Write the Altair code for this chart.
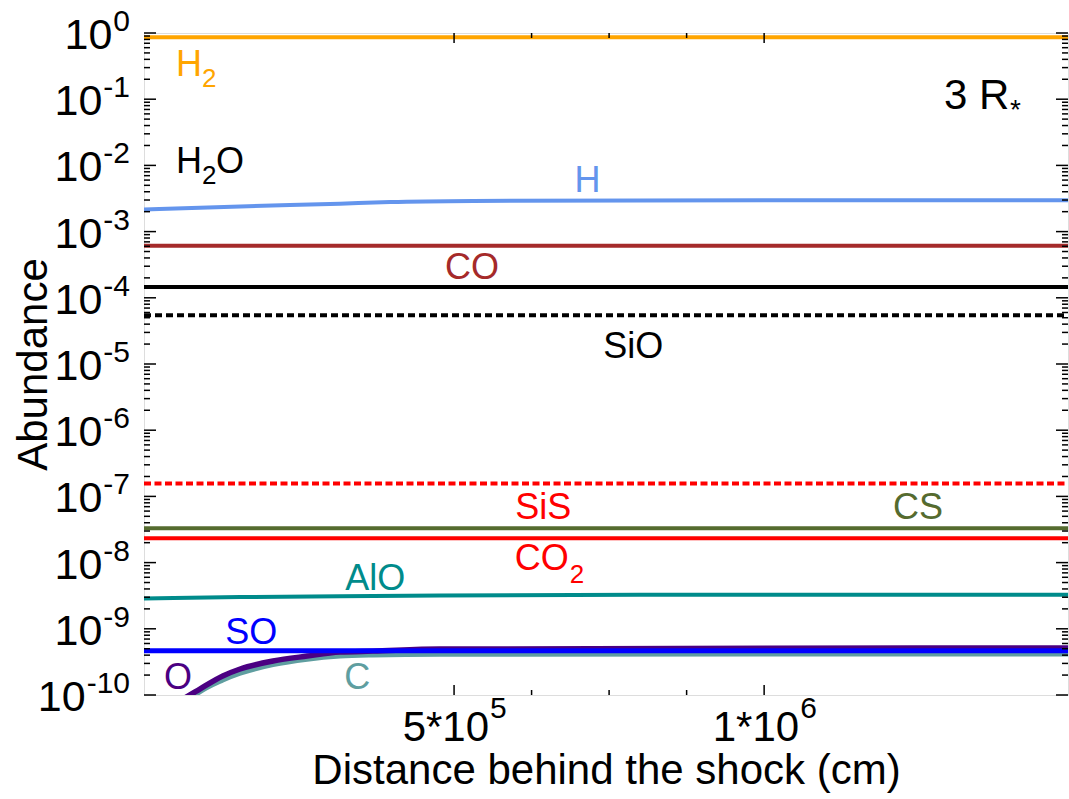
import altair as alt
import pandas as pd

FONT = "Liberation Sans"
W, H = 924, 662          # plot area in px
X_END = 1.49e6           # right end of the distance axis (cm)

# ---------------- abundance profiles (distance in cm, fractional abundance) ----------------
flat_x = [0.0, X_END]

h2_abund = [0.86, 0.86]
co_abund = [6.1e-4, 6.1e-4]
h2o_abund = [1.46e-4, 1.46e-4]
sio_abund = [5.45e-5, 5.45e-5]
sis_abund = [1.56e-7, 1.56e-7]
cs_abund = [3.3e-8, 3.3e-8]
co2_abund = [2.33e-8, 2.33e-8]
so_abund = [4.65e-10, 4.65e-10]

h_x = [0.0, 1.55e5, 3.16e5, 3.97e5, 5.31e5, 8.0e5, X_END]
h_abund = [2.15e-3, 2.40e-3, 2.64e-3, 2.79e-3, 2.90e-3, 2.96e-3, 2.97e-3]

alo_x = [0.0, 1.55e5, 3.16e5, 4.77e5, 8.0e5, X_END]
alo_abund = [2.88e-9, 3.01e-9, 3.11e-9, 3.19e-9, 3.26e-9, 3.26e-9]

o_x = [6.1e4, 7.4e4, 9.0e4, 1.27e5, 1.55e5, 2.08e5, 2.63e5, 3.16e5, 3.69e5, 4.77e5, 1.0e6, X_END]
o_abund = [8.5e-11, 1.0e-10, 1.23e-10, 1.94e-10, 2.47e-10, 3.26e-10, 3.87e-10, 4.45e-10,
           4.6e-10, 4.94e-10, 5.1e-10, 5.12e-10]

c_x = [7.0e4, 8.2e4, 1.27e5, 1.55e5, 2.08e5, 2.63e5, 3.16e5, 3.69e5, 4.77e5, X_END]
c_abund = [8.0e-11, 1.0e-10, 1.7e-10, 2.15e-10, 2.9e-10, 3.5e-10, 3.9e-10, 4.05e-10, 4.15e-10, 4.2e-10]

# (species, x, abundance, colour, line width, dash)
series = [
    ("H2", flat_x, h2_abund, "#FFA500", 4, None),
    ("H", h_x, h_abund, "#6495ED", 4, None),
    ("CO", flat_x, co_abund, "#A52A2A", 4, None),
    ("H2O", flat_x, h2o_abund, "#000000", 4, None),
    ("SiO", flat_x, sio_abund, "#000000", 4, [7, 4]),
    ("SiS", flat_x, sis_abund, "#FF0000", 4, [7, 3.5]),
    ("CS", flat_x, cs_abund, "#556B2F", 4, None),
    ("CO2", flat_x, co2_abund, "#FF0000", 4, None),
    ("AlO", alo_x, alo_abund, "#008B8B", 4, None),
    ("C", c_x, c_abund, "#5F9EA0", 5.5, None),
    ("O", o_x, o_abund, "#4B0082", 5.5, None),
    ("SO", flat_x, so_abund, "#0000FF", 5, None),
]

# ---------------- in-plot species labels ----------------
# anchor positions in data units: (label, x cm, abundance)
label_names = ["H2", "H2O", "H", "CO", "SiO", "SiS", "CS", "CO2", "AlO", "SO", "O", "C", "3 R*"]
label_x = [5.16e4, 5.16e4, 7.15e5, 5.29e5, 7.89e5, 6.44e5, 1.248e6, 5.98e5, 3.73e5, 1.73e5, 5.48e4, 3.44e5, 1.29e6]
label_y = [0.224, 7.68e-3, 3.9e-3, 1.9e-4, 1.23e-5, 4.56e-8, 4.56e-8, 7.73e-9, 3.9e-9, 5.8e-10, 1.23e-10, 1.23e-10, 0.0711]

# text pieces of every label: (text, size, dx, dy, align)
label_pieces = {
    "H2": [("H", 36, 0, 0, "left"), ("2", 26, 26, 11, "left")],
    "H2O": [("H", 36, 0, 0, "left"), ("2", 26, 26, 11, "left"), ("O", 36, 40, 0, "left")],
    "H": [("H", 36, 0, 0, "center")],
    "CO": [("CO", 36, 0, 0, "center")],
    "SiO": [("SiO", 36, 0, 0, "center")],
    "SiS": [("SiS", 36, 0, 0, "center")],
    "CS": [("CS", 36, 0, 0, "center")],
    "CO2": [("CO", 36, 0, 0, "left"), ("2", 26, 55, 13, "left")],
    "AlO": [("AlO", 36, 0, 0, "center")],
    "SO": [("SO", 36, 0, 0, "center")],
    "O": [("O", 36, 0, 0, "center")],
    "C": [("C", 36, 0, 0, "center")],
    "3 R*": [("3 R", 42, 0, 0, "left"), ("*", 28, 66, 10, "left")],
}
label_colors = {
    "H2": "#FFA500", "H2O": "#000000", "H": "#6495ED", "CO": "#A52A2A", "SiO": "#000000",
    "SiS": "#FF0000", "CS": "#556B2F", "CO2": "#FF0000", "AlO": "#008B8B", "SO": "#0000FF",
    "O": "#4B0082", "C": "#5F9EA0", "3 R*": "#000000",
}

# ---------------- axis ticks ----------------
y_major = [10.0 ** n for n in range(-10, 1)]
y_exponents = [str(n) for n in range(-10, 1)]
y_minor = [k * 10.0 ** n for n in range(-10, 0) for k in range(2, 10)]
x_major = [5e5, 1e6]
x_major_mant = ["5*10", "1*10"]
x_major_exp = ["5", "6"]
x_minor = [6.25e5, 7.5e5, 8.75e5]

# ---------------- shared scales / axes ----------------
X_SCALE = alt.Scale(domain=[0, X_END], nice=False, zero=False)
Y_SCALE = alt.Scale(type="log", domain=[1e-10, 1], nice=False)

X_AXIS = alt.Axis(title="Distance behind the shock (cm)", labels=False, ticks=False, domain=False,
                  grid=False, titleFont=FONT, titleFontSize=42, titleFontWeight="normal",
                  titleColor="black", titleX=W / 2, titleY=88, titleBaseline="alphabetic",
                  titleAlign="center")
Y_AXIS = alt.Axis(title="Abundance", labels=False, ticks=False, domain=False, grid=False,
                  titleFont=FONT, titleFontSize=42, titleFontWeight="normal", titleColor="black",
                  titleX=-98, titleY=H / 2, titleAngle=270, titleBaseline="alphabetic",
                  titleAlign="center")


def ex(field):
    return alt.X(f"{field}:Q", scale=X_SCALE, axis=X_AXIS)


def ey(field):
    return alt.Y(f"{field}:Q", scale=Y_SCALE, axis=Y_AXIS)


layers = []

# species curves
for name, xs, ys, color, width, dash in series:
    df = pd.DataFrame({"x": xs, "y": ys, "species": name})
    kw = dict(color=color, strokeWidth=width, clip=True, interpolate="monotone")
    if dash:
        kw["strokeDash"] = dash
    layers.append(alt.Chart(df).mark_line(**kw).encode(x=ex("x"), y=ey("y")))

# species labels
for name, lx, ly in zip(label_names, label_x, label_y):
    for text, size, dx, dy, align in label_pieces[name]:
        df = pd.DataFrame({"x": [lx], "y": [ly], "t": [text]})
        layers.append(
            alt.Chart(df).mark_text(font=FONT, fontSize=size, color=label_colors[name], align=align,
                                    baseline="alphabetic", dx=dx, dy=dy)
            .encode(x=ex("x"), y=ey("y"), text="t:N")
        )

# inward tick marks on all four sides
ymaj = pd.DataFrame({"v": y_major})
ymin = pd.DataFrame({"v": y_minor})
xmaj = pd.DataFrame({"v": x_major})
xmin = pd.DataFrame({"v": x_minor})
for df, length in [(ymaj, 12), (ymin, 6)]:
    layers.append(alt.Chart(df).mark_rule(color="black", strokeWidth=1.5)
                  .encode(y=ey("v"), x=alt.value(0), x2=alt.value(length)))
    layers.append(alt.Chart(df).mark_rule(color="black", strokeWidth=1.5)
                  .encode(y=ey("v"), x=alt.value(W - length), x2=alt.value(W)))
for df, length in [(xmaj, 10), (xmin, 5)]:
    layers.append(alt.Chart(df).mark_rule(color="black", strokeWidth=1.5)
                  .encode(x=ex("v"), y=alt.value(H), y2=alt.value(H - length)))
    layers.append(alt.Chart(df).mark_rule(color="black", strokeWidth=1.5)
                  .encode(x=ex("v"), y=alt.value(0), y2=alt.value(length)))

# y tick labels: "10" with a raised exponent
EXP_SIZE = 30


def exp_width(s):
    return sum(0.333 if ch == "-" else 0.556 for ch in s) * EXP_SIZE


ylab = pd.DataFrame({"v": y_major, "e": y_exponents})
layers.append(
    alt.Chart(ylab).mark_text(font=FONT, fontSize=EXP_SIZE, align="right", baseline="alphabetic",
                              dx=-14, dy=-2, color="black")
    .encode(x=alt.value(0), y=ey("v"), text="e:N")
)
for n_chars in sorted(set(len(e) for e in y_exponents)):
    sub = ylab[ylab["e"].str.len() == n_chars].assign(base="10")
    w = exp_width(sub["e"].iloc[0])
    layers.append(
        alt.Chart(sub).mark_text(font=FONT, fontSize=43, align="right", baseline="middle",
                                 dx=-15 - w, dy=3, color="black")
        .encode(x=alt.value(0), y=ey("v"), text="base:N")
    )

# x tick labels: mantissa*10 with a raised exponent
xlab = pd.DataFrame({"v": x_major, "m": x_major_mant, "e": x_major_exp})
layers.append(
    alt.Chart(xlab).mark_text(font=FONT, fontSize=42, align="right", baseline="middle",
                              dx=35, dy=33, color="black")
    .encode(x=ex("v"), y=alt.value(H), text="m:N")
)
layers.append(
    alt.Chart(xlab).mark_text(font=FONT, fontSize=EXP_SIZE, align="left", baseline="alphabetic",
                              dx=36, dy=23, color="black")
    .encode(x=ex("v"), y=alt.value(H), text="e:N")
)

chart = (
    alt.layer(*layers)
    .properties(width=W, height=H, autosize=alt.AutoSizeParams(type="none"),
                padding={"left": 144, "top": 33, "right": 1, "bottom": 100})
    .configure_view(stroke="black", strokeWidth=2)
    .configure(background="white")
)

chart.save("out.html", embed_options={"renderer": "svg", "actions": False})
